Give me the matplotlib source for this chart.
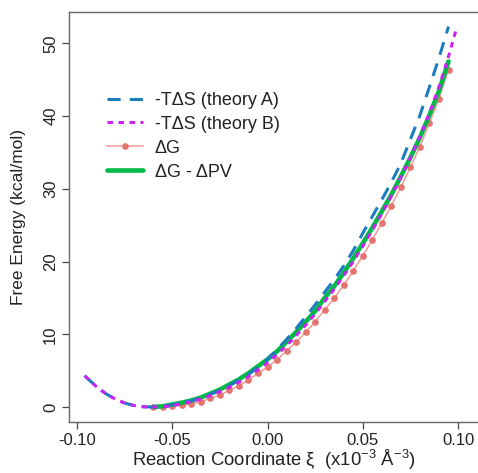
import matplotlib
matplotlib.use("Agg")
import matplotlib.pyplot as plt

plt.rcParams["font.family"] = ["Liberation Sans", "DejaVu Sans"]
plt.rcParams["mathtext.fontset"] = "custom"
plt.rcParams["mathtext.rm"] = "Liberation Sans"
plt.rcParams["mathtext.it"] = "Liberation Sans:italic"
plt.rcParams["axes.unicode_minus"] = False

# --- data ---
xi_g = [-0.060, -0.055, -0.050, -0.045, -0.040, -0.035, -0.030, -0.025,
        -0.020, -0.015, -0.010, -0.005, 0.000, 0.005, 0.010, 0.015,
        0.020, 0.025, 0.030, 0.035, 0.040, 0.045, 0.050, 0.055,
        0.060, 0.065, 0.070, 0.075, 0.080, 0.085, 0.090, 0.095]
dG = [0.00, 0.02, 0.09, 0.23, 0.46, 0.73, 1.19, 1.65,
      2.29, 2.93, 3.71, 4.62, 5.49, 6.50, 7.69, 8.93,
      10.26, 11.72, 13.37, 14.97, 16.76, 18.73, 20.79, 22.99,
      25.27, 27.66, 30.22, 32.97, 35.81, 39.01, 42.40, 46.34]
dG_pv = [0.00, 0.10, 0.35, 0.60, 0.90, 1.30, 1.85, 2.40,
         3.10, 3.80, 4.65, 5.60, 6.55, 7.65, 8.95, 10.30,
         11.70, 13.20, 15.00, 16.60, 18.45, 20.45, 22.50, 24.65,
         26.90, 29.20, 31.70, 34.30, 37.05, 40.15, 43.45, 47.50]

xi_a = [-0.096, -0.090, -0.085, -0.080, -0.075, -0.070, -0.065, -0.060,
        -0.055, -0.050, -0.045, -0.040, -0.035, -0.030, -0.025, -0.020,
        -0.015, -0.010, -0.005, 0.000, 0.005, 0.010, 0.015, 0.020,
        0.025, 0.030, 0.035, 0.040, 0.045, 0.050, 0.055, 0.060,
        0.065, 0.070, 0.075, 0.080, 0.085, 0.090, 0.095]
ts_a = [4.30, 2.85, 1.85, 1.10, 0.55, 0.20, 0.03, 0.00,
        0.08, 0.30, 0.55, 0.85, 1.25, 1.75, 2.30, 2.95,
        3.70, 4.50, 5.45, 6.60, 7.90, 9.30, 10.80, 12.40,
        14.05, 15.80, 17.50, 19.40, 21.50, 23.90, 26.20, 28.50,
        30.90, 33.50, 36.80, 40.10, 44.00, 48.00, 52.30]

xi_b = [-0.096, -0.090, -0.085, -0.080, -0.075, -0.070, -0.065, -0.060,
        -0.055, -0.050, -0.045, -0.040, -0.035, -0.030, -0.025, -0.020,
        -0.015, -0.010, -0.005, 0.000, 0.005, 0.010, 0.015, 0.020,
        0.025, 0.030, 0.035, 0.040, 0.045, 0.050, 0.055, 0.060,
        0.065, 0.070, 0.075, 0.080, 0.085, 0.090, 0.095, 0.0975, 0.099]
ts_b = [4.30, 2.85, 1.85, 1.10, 0.55, 0.20, 0.03, 0.00,
        0.05, 0.20, 0.45, 0.75, 1.10, 1.55, 2.10, 2.70,
        3.40, 4.20, 5.10, 6.10, 7.20, 8.45, 9.80, 11.25,
        12.80, 14.50, 16.20, 18.05, 20.00, 22.10, 24.30, 26.60,
        29.00, 31.60, 34.30, 37.20, 40.40, 44.00, 48.20, 50.50, 51.90]

xticks = [-0.10, -0.05, 0.00, 0.05, 0.10]
yticks = [0, 10, 20, 30, 40, 50]

W, H = 478, 473
fig = plt.figure(figsize=(W / 100, H / 100), dpi=100)
ax = fig.add_axes([69 / W, (H - 422) / H, (479 - 69) / W, (422 - 12) / H])

ax.plot(xi_g, dG, color="#F29A95", linewidth=1.1, marker="o", markersize=3.8,
        markerfacecolor="#E5746E", markeredgecolor="#E5746E", label="ΔG", zorder=2)
ax.plot(xi_g, dG_pv, color="#00BA48", linewidth=3.3, solid_capstyle="round",
        label="ΔG - ΔPV", zorder=3)
la, = ax.plot(xi_a, ts_a, color="#1C7DBE", linewidth=2.2, dash_capstyle="butt",
              label="-TΔS (theory A)", zorder=4)
la.set_dashes((4.3, 3.0))
lb, = ax.plot(xi_b, ts_b, color="#CC22F5", linewidth=2.2, dash_capstyle="butt",
              label="-TΔS (theory B)", zorder=5)
lb.set_dashes((1.8, 1.8))

ax.set_xlim(-0.1042, 0.1110)
ax.set_ylim(-2.06, 54.3)
ax.set_xticks(xticks)
ax.set_xticklabels([f"{t:.2f}" for t in xticks])
ax.set_yticks(yticks)
ax.set_yticklabels([str(t) for t in yticks], rotation=90, va="center")
ax.tick_params(axis="both", labelsize=12, length=4.8, width=0.9,
               color="#444444", labelcolor="#222222")
ax.tick_params(axis="x", pad=3)
ax.tick_params(axis="y", pad=3)
for s in ax.spines.values():
    s.set_color("#666666")
    s.set_linewidth(1.0)

ax.set_xlabel("Reaction Coordinate ξ  (x10$^{-3}$ Å$^{-3}$)", fontsize=13.3, color="#222222")
ax.set_ylabel("Free Energy (kcal/mol)", fontsize=12.5, color="#222222")
ax.xaxis.set_label_coords(0.5, -0.062)
ax.yaxis.set_label_coords(-0.105, 0.5)

handles = [la, lb] + ax.get_lines()[:2]
leg = ax.legend(handles=handles, labels=[h.get_label() for h in handles],
                loc="upper left", bbox_to_anchor=(0.0927, 0.805), frameon=False,
                fontsize=13, handlelength=2.0, handletextpad=0.65,
                labelspacing=0.38, borderpad=0, borderaxespad=0)
for t in leg.get_texts():
    t.set_color("#222222")

fig.savefig("out.png", dpi=100)
